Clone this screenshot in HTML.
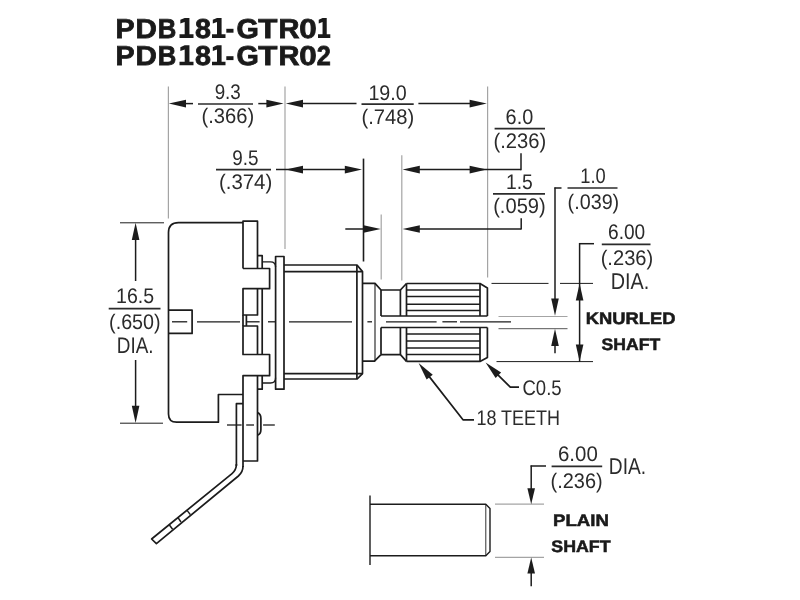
<!DOCTYPE html>
<html><head><meta charset="utf-8"><title>PDB181-GTR</title>
<style>
html,body{margin:0;padding:0;background:#fff;}
body{width:800px;height:600px;overflow:hidden;}
svg{display:block;font-family:"Liberation Sans",sans-serif;text-rendering:geometricPrecision;}
</style></head><body>
<svg width="800" height="600" viewBox="0 0 800 600">
<rect width="800" height="600" fill="#ffffff"/>
<g style="filter:blur(0.4px)">
<text transform="translate(115.51,37.90) scale(1.0428,1)" font-size="27.4" font-weight="bold" fill="#1a1a1a" stroke="#1a1a1a" stroke-width="0.8">P</text>
<text transform="translate(135.45,37.90) scale(1.0801,1)" font-size="27.4" font-weight="bold" fill="#1a1a1a" stroke="#1a1a1a" stroke-width="0.8">D</text>
<text transform="translate(157.70,37.90) scale(0.9378,1)" font-size="27.4" font-weight="bold" fill="#1a1a1a" stroke="#1a1a1a" stroke-width="0.8">B</text>
<path d="M184.68,17.90 L189.44,17.90 L189.44,34.30 L193.50,34.30 L193.50,37.90 L179.50,37.90 L179.50,34.30 L184.68,34.30 L184.68,22.10 L180.34,23.50 L180.34,19.80 Z" fill="#1a1a1a"/>
<text transform="translate(195.01,37.90) scale(1.0470,1)" font-size="27.4" font-weight="bold" fill="#1a1a1a" stroke="#1a1a1a" stroke-width="0.8">8</text>
<path d="M217.00,17.90 L221.59,17.90 L221.59,34.30 L225.50,34.30 L225.50,37.90 L212.00,37.90 L212.00,34.30 L217.00,34.30 L217.00,22.10 L212.81,23.50 L212.81,19.80 Z" fill="#1a1a1a"/>
<rect x="226.30" y="28.80" width="7.20" height="3.9" fill="#1a1a1a"/>
<text transform="translate(236.42,37.90) scale(1.0489,1)" font-size="27.4" font-weight="bold" fill="#1a1a1a" stroke="#1a1a1a" stroke-width="0.8">G</text>
<text transform="translate(258.16,37.90) scale(1.1444,1)" font-size="27.4" font-weight="bold" fill="#1a1a1a" stroke="#1a1a1a" stroke-width="0.8">T</text>
<text transform="translate(278.58,37.90) scale(1.0616,1)" font-size="27.4" font-weight="bold" fill="#1a1a1a" stroke="#1a1a1a" stroke-width="0.8">R</text>
<text transform="translate(299.27,37.90) scale(1.1477,1)" font-size="27.4" font-weight="bold" fill="#1a1a1a" stroke="#1a1a1a" stroke-width="0.8">0</text>
<path d="M322.55,17.90 L326.73,17.90 L326.73,34.30 L330.30,34.30 L330.30,37.90 L318.00,37.90 L318.00,34.30 L322.55,34.30 L322.55,22.10 L318.74,23.50 L318.74,19.80 Z" fill="#1a1a1a"/>
<text transform="translate(115.51,65.30) scale(1.0428,1)" font-size="27.4" font-weight="bold" fill="#1a1a1a" stroke="#1a1a1a" stroke-width="0.8">P</text>
<text transform="translate(135.45,65.30) scale(1.0801,1)" font-size="27.4" font-weight="bold" fill="#1a1a1a" stroke="#1a1a1a" stroke-width="0.8">D</text>
<text transform="translate(157.70,65.30) scale(0.9378,1)" font-size="27.4" font-weight="bold" fill="#1a1a1a" stroke="#1a1a1a" stroke-width="0.8">B</text>
<path d="M184.68,45.30 L189.44,45.30 L189.44,61.70 L193.50,61.70 L193.50,65.30 L179.50,65.30 L179.50,61.70 L184.68,61.70 L184.68,49.50 L180.34,50.90 L180.34,47.20 Z" fill="#1a1a1a"/>
<text transform="translate(195.01,65.30) scale(1.0470,1)" font-size="27.4" font-weight="bold" fill="#1a1a1a" stroke="#1a1a1a" stroke-width="0.8">8</text>
<path d="M217.00,45.30 L221.59,45.30 L221.59,61.70 L225.50,61.70 L225.50,65.30 L212.00,65.30 L212.00,61.70 L217.00,61.70 L217.00,49.50 L212.81,50.90 L212.81,47.20 Z" fill="#1a1a1a"/>
<rect x="226.30" y="56.20" width="7.20" height="3.9" fill="#1a1a1a"/>
<text transform="translate(236.42,65.30) scale(1.0489,1)" font-size="27.4" font-weight="bold" fill="#1a1a1a" stroke="#1a1a1a" stroke-width="0.8">G</text>
<text transform="translate(258.16,65.30) scale(1.1444,1)" font-size="27.4" font-weight="bold" fill="#1a1a1a" stroke="#1a1a1a" stroke-width="0.8">T</text>
<text transform="translate(278.58,65.30) scale(1.0616,1)" font-size="27.4" font-weight="bold" fill="#1a1a1a" stroke="#1a1a1a" stroke-width="0.8">R</text>
<text transform="translate(299.27,65.30) scale(1.1477,1)" font-size="27.4" font-weight="bold" fill="#1a1a1a" stroke="#1a1a1a" stroke-width="0.8">0</text>
<text transform="translate(316.74,65.30) scale(0.9219,1)" font-size="27.4" font-weight="bold" fill="#1a1a1a" stroke="#1a1a1a" stroke-width="0.8">2</text>
<line x1="168.4" y1="86.5" x2="168.4" y2="218.5" stroke="#a4a4a4" stroke-width="1.2"/>
<line x1="285.0" y1="86.5" x2="285.0" y2="249" stroke="#a4a4a4" stroke-width="1.2"/>
<line x1="487.6" y1="86.5" x2="487.6" y2="277.5" stroke="#a4a4a4" stroke-width="1.2"/>
<line x1="401.8" y1="155.3" x2="401.8" y2="280.5" stroke="#a4a4a4" stroke-width="1.2"/>
<line x1="381.2" y1="214.4" x2="381.2" y2="279.5" stroke="#a4a4a4" stroke-width="1.2"/>
<line x1="120" y1="222.8" x2="164" y2="222.8" stroke="#1c1c1c" stroke-width="1.0"/>
<line x1="120" y1="423.2" x2="163" y2="423.2" stroke="#1c1c1c" stroke-width="1.0"/>
<line x1="491.5" y1="283.4" x2="548.5" y2="283.4" stroke="#1c1c1c" stroke-width="1.0"/>
<line x1="560" y1="283.4" x2="593" y2="283.4" stroke="#1c1c1c" stroke-width="1.0"/>
<line x1="498.5" y1="316.5" x2="567.5" y2="316.5" stroke="#a4a4a4" stroke-width="1.2"/>
<line x1="498.5" y1="328.7" x2="567.5" y2="328.7" stroke="#555" stroke-width="1.0"/>
<line x1="496.5" y1="361.6" x2="593" y2="361.6" stroke="#1c1c1c" stroke-width="1.0"/>
<line x1="495" y1="504.2" x2="544" y2="504.2" stroke="#a4a4a4" stroke-width="1.2"/>
<line x1="495" y1="557.4" x2="544" y2="557.4" stroke="#a4a4a4" stroke-width="1.2"/>
<polygon points="168.80,103.60 186.00,99.80 186.00,107.40" fill="#1c1c1c"/>
<line x1="185" y1="103.6" x2="193" y2="103.6" stroke="#1c1c1c" stroke-width="1.5"/>
<line x1="198" y1="104.0" x2="253" y2="104.0" stroke="#2b2b2b" stroke-width="1.7"/>
<text transform="translate(214.63,99.30) scale(0.8883,1)" font-size="21.2" fill="#2b2b2b">9.3</text>
<text transform="translate(201.55,122.80) scale(0.9517,1)" font-size="21.2" fill="#2b2b2b">(.366)</text>
<line x1="258.3" y1="103.6" x2="267" y2="103.6" stroke="#1c1c1c" stroke-width="1.5"/>
<polygon points="283.60,103.60 266.40,107.40 266.40,99.80" fill="#1c1c1c"/>
<polygon points="285.80,103.60 303.00,99.80 303.00,107.40" fill="#1c1c1c"/>
<line x1="302" y1="103.6" x2="356.5" y2="103.6" stroke="#1c1c1c" stroke-width="1.5"/>
<line x1="361.5" y1="104.2" x2="413.7" y2="104.2" stroke="#2b2b2b" stroke-width="1.7"/>
<text transform="translate(368.40,99.50) scale(0.9295,1)" font-size="21.2" fill="#2b2b2b">19.0</text>
<text transform="translate(361.55,124.20) scale(0.9517,1)" font-size="21.2" fill="#2b2b2b">(.748)</text>
<line x1="418.4" y1="103.6" x2="470.5" y2="103.6" stroke="#1c1c1c" stroke-width="1.5"/>
<polygon points="486.80,103.60 469.60,107.40 469.60,99.80" fill="#1c1c1c"/>
<line x1="216" y1="169.6" x2="271" y2="169.6" stroke="#2b2b2b" stroke-width="1.7"/>
<text transform="translate(232.33,164.90) scale(0.8905,1)" font-size="21.2" fill="#2b2b2b">9.5</text>
<text transform="translate(218.93,189.00) scale(0.9631,1)" font-size="21.2" fill="#2b2b2b">(.374)</text>
<line x1="276" y1="169.6" x2="346" y2="169.6" stroke="#1c1c1c" stroke-width="1.5"/>
<polygon points="285.80,169.60 303.00,165.80 303.00,173.40" fill="#1c1c1c"/>
<polygon points="362.00,169.60 344.80,173.40 344.80,165.80" fill="#1c1c1c"/>
<line x1="363.5" y1="158.6" x2="363.5" y2="261.5" stroke="#1c1c1c" stroke-width="1.6"/>
<polygon points="402.60,169.60 419.80,165.80 419.80,173.40" fill="#1c1c1c"/>
<polygon points="486.80,169.60 469.60,173.40 469.60,165.80" fill="#1c1c1c"/>
<line x1="419" y1="169.6" x2="521" y2="169.6" stroke="#1c1c1c" stroke-width="1.5"/>
<line x1="521" y1="153.3" x2="521" y2="170.2" stroke="#1c1c1c" stroke-width="1.5"/>
<line x1="494.6" y1="128.6" x2="545" y2="128.6" stroke="#2b2b2b" stroke-width="1.7"/>
<text transform="translate(505.61,123.90) scale(0.9383,1)" font-size="21.2" fill="#2b2b2b">6.0</text>
<text transform="translate(493.55,148.00) scale(0.9517,1)" font-size="21.2" fill="#2b2b2b">(.236)</text>
<line x1="345.3" y1="229.0" x2="364" y2="229.0" stroke="#1c1c1c" stroke-width="1.5"/>
<polygon points="380.80,229.00 363.60,232.80 363.60,225.20" fill="#1c1c1c"/>
<polygon points="402.60,229.00 419.80,225.20 419.80,232.80" fill="#1c1c1c"/>
<line x1="419" y1="229.0" x2="521.2" y2="229.0" stroke="#1c1c1c" stroke-width="1.5"/>
<line x1="521.2" y1="218.3" x2="521.2" y2="229.6" stroke="#1c1c1c" stroke-width="1.5"/>
<line x1="493" y1="193.8" x2="545" y2="193.8" stroke="#2b2b2b" stroke-width="1.7"/>
<text transform="translate(505.93,189.10) scale(0.9115,1)" font-size="21.2" fill="#2b2b2b">1.5</text>
<text transform="translate(493.15,213.20) scale(0.9498,1)" font-size="21.2" fill="#2b2b2b">(.059)</text>
<line x1="567.5" y1="188.0" x2="617.5" y2="188.0" stroke="#2b2b2b" stroke-width="1.7"/>
<text transform="translate(580.21,183.30) scale(0.8650,1)" font-size="21.2" fill="#2b2b2b">1.0</text>
<text transform="translate(567.57,208.60) scale(0.9328,1)" font-size="21.2" fill="#2b2b2b">(.039)</text>
<line x1="554.4" y1="188" x2="561.5" y2="188" stroke="#1c1c1c" stroke-width="1.5"/>
<line x1="555" y1="187.4" x2="555" y2="299" stroke="#1c1c1c" stroke-width="1.5"/>
<polygon points="555.00,315.80 551.20,298.60 558.80,298.60" fill="#1c1c1c"/>
<polygon points="555.00,328.80 558.80,346.00 551.20,346.00" fill="#1c1c1c"/>
<line x1="555" y1="345" x2="555" y2="353.2" stroke="#1c1c1c" stroke-width="1.5"/>
<line x1="601.8" y1="244.4" x2="650.5" y2="244.4" stroke="#2b2b2b" stroke-width="1.7"/>
<text transform="translate(608.04,238.70) scale(0.9013,1)" font-size="21.2" fill="#2b2b2b">6.00</text>
<text transform="translate(600.65,264.80) scale(0.9498,1)" font-size="21.2" fill="#2b2b2b">(.236)</text>
<text transform="translate(610.68,289.30) scale(0.8688,1)" font-size="22.8" fill="#2b2b2b">DIA.</text>
<line x1="579" y1="243.7" x2="594" y2="243.7" stroke="#1c1c1c" stroke-width="1.5"/>
<line x1="579.6" y1="243.0" x2="579.6" y2="362" stroke="#1c1c1c" stroke-width="1.5"/>
<polygon points="579.60,283.40 583.40,300.60 575.80,300.60" fill="#1c1c1c"/>
<polygon points="579.60,361.60 575.80,344.40 583.40,344.40" fill="#1c1c1c"/>
<line x1="108.7" y1="308.7" x2="160.5" y2="308.7" stroke="#2b2b2b" stroke-width="1.7"/>
<text transform="translate(116.01,302.80) scale(0.9233,1)" font-size="21.2" fill="#2b2b2b">16.5</text>
<text transform="translate(109.08,329.20) scale(0.9309,1)" font-size="21.2" fill="#2b2b2b">(.650)</text>
<text transform="translate(116.75,352.90) scale(0.8365,1)" font-size="22.6" fill="#2b2b2b">DIA.</text>
<line x1="135.6" y1="240" x2="135.6" y2="281" stroke="#1c1c1c" stroke-width="1.5"/>
<polygon points="135.60,222.80 139.40,240.00 131.80,240.00" fill="#1c1c1c"/>
<line x1="135.6" y1="360" x2="135.6" y2="407" stroke="#1c1c1c" stroke-width="1.5"/>
<polygon points="135.60,423.00 131.80,405.80 139.40,405.80" fill="#1c1c1c"/>
<line x1="551.6" y1="466.4" x2="602.2" y2="466.4" stroke="#2b2b2b" stroke-width="1.7"/>
<text transform="translate(557.98,461.30) scale(0.9647,1)" font-size="21.2" fill="#2b2b2b">6.00</text>
<text transform="translate(550.56,487.80) scale(0.9404,1)" font-size="21.2" fill="#2b2b2b">(.236)</text>
<text transform="translate(608.83,474.10) scale(0.8391,1)" font-size="22.8" fill="#2b2b2b">DIA.</text>
<line x1="530.6" y1="466" x2="546" y2="466" stroke="#1c1c1c" stroke-width="1.5"/>
<line x1="531.2" y1="465.4" x2="531.2" y2="489" stroke="#1c1c1c" stroke-width="1.5"/>
<polygon points="531.20,504.20 527.40,488.20 535.00,488.20" fill="#1c1c1c"/>
<polygon points="531.20,557.60 535.00,573.60 527.40,573.60" fill="#1c1c1c"/>
<line x1="531.2" y1="573" x2="531.2" y2="586.3" stroke="#1c1c1c" stroke-width="1.5"/>
<text transform="translate(585.79,324.00) scale(1.1061,1)" font-size="16.6" font-weight="bold" stroke="#1a1a1a" stroke-width="0.53" fill="#1a1a1a">KNURLED</text>
<text transform="translate(601.51,349.70) scale(1.0604,1)" font-size="16.6" font-weight="bold" stroke="#1a1a1a" stroke-width="0.53" fill="#1a1a1a">SHAFT</text>
<text transform="translate(552.97,526.00) scale(1.1241,1)" font-size="16.6" font-weight="bold" stroke="#1a1a1a" stroke-width="0.53" fill="#1a1a1a">PLAIN</text>
<text transform="translate(551.30,552.00) scale(1.0714,1)" font-size="16.6" font-weight="bold" stroke="#1a1a1a" stroke-width="0.53" fill="#1a1a1a">SHAFT</text>
<text transform="translate(522.47,394.60) scale(0.8752,1)" font-size="21.2" fill="#2b2b2b">C0.5</text>
<text transform="translate(476.43,425.30) scale(0.8483,1)" font-size="21.2" fill="#2b2b2b">18 TEETH</text>
<polygon points="485.60,362.60 501.11,372.54 495.60,378.07" fill="#1c1c1c"/>
<path d="M497.65,374.60 L510.3,387.2 L519,387.2" stroke="#1c1c1c" stroke-width="1.7" fill="none" stroke-linejoin="round" stroke-linecap="butt"/>
<polygon points="418.60,363.00 432.76,374.78 426.61,379.58" fill="#1c1c1c"/>
<path d="M429.07,376.39 L463,419.8 L474,419.8" stroke="#1c1c1c" stroke-width="1.7" fill="none" stroke-linejoin="round" stroke-linecap="butt"/>
<path d="M243,222.6 L178.5,222.6 Q168.5,222.6 168.5,232.6 L168.5,414 Q168.5,422.2 176.7,422.2 L218.4,422.2 L218.4,394.5 L243,394.5" stroke="#1c1c1c" stroke-width="1.7" fill="none" stroke-linejoin="round" stroke-linecap="butt"/>
<path d="M168.5,310.1 L192.1,310.1 L192.1,333.4 L168.5,333.4" stroke="#1c1c1c" stroke-width="1.7" fill="none" stroke-linejoin="round" stroke-linecap="butt"/>
<path d="M243,268.5 L243,221.2 L257.5,221.2 L257.5,268.5" stroke="#1c1c1c" stroke-width="1.7" fill="none" stroke-linejoin="round" stroke-linecap="butt"/>
<path d="M243,268.5 L269.6,268.5 L269.6,288.7 L243,288.7 L243,315 L257.5,315 L257.5,288.7" stroke="#1c1c1c" stroke-width="1.7" fill="none" stroke-linejoin="round" stroke-linecap="butt"/>
<path d="M243,315 L243,326 M246.4,315 L246.4,326" stroke="#1c1c1c" stroke-width="1.7" fill="none" stroke-linejoin="round" stroke-linecap="butt"/>
<path d="M257.5,354.5 L257.5,326 L243,326 L243,354.5 L269.6,354.5 L269.6,375.7 L243,375.7 L243,467" stroke="#1c1c1c" stroke-width="1.7" fill="none" stroke-linejoin="round" stroke-linecap="butt"/>
<path d="M257.5,375.7 L257.5,461 L243,461" stroke="#1c1c1c" stroke-width="1.7" fill="none" stroke-linejoin="round" stroke-linecap="butt"/>
<path d="M257.5,255.7 L262.2,255.7 L262.2,268.5 M262.2,288.7 L262.2,354.5 M262.2,375.7 L262.2,389.2 L257.5,389.2" stroke="#1c1c1c" stroke-width="1.7" fill="none" stroke-linejoin="round" stroke-linecap="butt"/>
<path d="M262.2,261.8 L270.5,261.8 Q275.6,261.8 275.6,267" stroke="#1c1c1c" stroke-width="1.3" fill="none" stroke-linejoin="round" stroke-linecap="butt"/>
<path d="M262.2,383 L270.5,383 Q275.6,383 275.6,377.8" stroke="#1c1c1c" stroke-width="1.3" fill="none" stroke-linejoin="round" stroke-linecap="butt"/>
<path d="M275.6,256.5 L284,256.5 L284,389.2 L275.6,389.2 Z" stroke="#1c1c1c" stroke-width="1.7" fill="none" stroke-linejoin="round" stroke-linecap="butt"/>
<path d="M284,265 L357,265 L362.5,271.6 L362.5,373.6 L357.2,379 L284,379" stroke="#1c1c1c" stroke-width="1.7" fill="none" stroke-linejoin="round" stroke-linecap="butt"/>
<path d="M284,271.6 L362.5,271.6 M284,373.6 L362.5,373.6 M356.9,265 L356.9,379" stroke="#1c1c1c" stroke-width="1.7" fill="none" stroke-linejoin="round" stroke-linecap="butt"/>
<path d="M362.5,283.4 L375,283.4 L381,290 M362.5,361.2 L374.5,361.2 L381,354.6" stroke="#1c1c1c" stroke-width="1.7" fill="none" stroke-linejoin="round" stroke-linecap="butt"/>
<path d="M375,283.4 L375,361.2" stroke="#1c1c1c" stroke-width="1.1" fill="none" stroke-linejoin="round" stroke-linecap="butt"/>
<path d="M381,290 L381,316 M381,327.5 L381,354.6" stroke="#1c1c1c" stroke-width="1.7" fill="none" stroke-linejoin="round" stroke-linecap="butt"/>
<path d="M381,290 L400.4,290 L406.5,283.5 M381,354.6 L400.4,354.6 L406.5,361.4" stroke="#1c1c1c" stroke-width="1.7" fill="none" stroke-linejoin="round" stroke-linecap="butt"/>
<path d="M400.4,290 L400.4,316 M400.4,327.5 L400.4,354.6" stroke="#1c1c1c" stroke-width="1.7" fill="none" stroke-linejoin="round" stroke-linecap="butt"/>
<path d="M406.5,283.5 L406.5,316 M406.5,327.5 L406.5,361.4" stroke="#1c1c1c" stroke-width="1.7" fill="none" stroke-linejoin="round" stroke-linecap="butt"/>
<path d="M406.5,283.5 L480,283.5 L487.4,288 L487.4,316 M406.5,361.4 L480,361.4 L487.4,357.4 L487.4,327.5" stroke="#1c1c1c" stroke-width="1.7" fill="none" stroke-linejoin="round" stroke-linecap="butt"/>
<path d="M480,283.5 L480,316 M480,327.5 L480,361.4" stroke="#1c1c1c" stroke-width="1.7" fill="none" stroke-linejoin="round" stroke-linecap="butt"/>
<path d="M381,316 L487.4,316 M381,327.5 L487.4,327.5" stroke="#1c1c1c" stroke-width="1.7" fill="none" stroke-linejoin="round" stroke-linecap="butt"/>
<line x1="406.5" y1="290" x2="480" y2="290" stroke="#1c1c1c" stroke-width="1.5"/>
<line x1="406.5" y1="296.6" x2="480" y2="296.6" stroke="#1c1c1c" stroke-width="1.5"/>
<line x1="406.5" y1="304.3" x2="480" y2="304.3" stroke="#1c1c1c" stroke-width="1.5"/>
<line x1="406.5" y1="310.6" x2="480" y2="310.6" stroke="#1c1c1c" stroke-width="1.5"/>
<line x1="406.5" y1="334" x2="480" y2="334" stroke="#1c1c1c" stroke-width="1.5"/>
<line x1="406.5" y1="341" x2="480" y2="341" stroke="#1c1c1c" stroke-width="1.5"/>
<line x1="406.5" y1="348" x2="480" y2="348" stroke="#1c1c1c" stroke-width="1.5"/>
<line x1="406.5" y1="354.6" x2="480" y2="354.6" stroke="#1c1c1c" stroke-width="1.5"/>
<line x1="172" y1="321.8" x2="187.2" y2="321.8" stroke="#1c1c1c" stroke-width="1.3"/>
<line x1="197" y1="321.8" x2="240" y2="321.8" stroke="#1c1c1c" stroke-width="1.3"/>
<line x1="247" y1="321.8" x2="259.6" y2="321.8" stroke="#1c1c1c" stroke-width="1.3"/>
<line x1="268" y1="321.8" x2="275" y2="321.8" stroke="#1c1c1c" stroke-width="1.3"/>
<line x1="289" y1="321.8" x2="352" y2="321.8" stroke="#1c1c1c" stroke-width="1.3"/>
<line x1="367.4" y1="321.8" x2="372" y2="321.8" stroke="#1c1c1c" stroke-width="1.3"/>
<line x1="386" y1="321.8" x2="436.6" y2="321.8" stroke="#1c1c1c" stroke-width="1.3"/>
<line x1="442.4" y1="321.8" x2="457" y2="321.8" stroke="#1c1c1c" stroke-width="1.3"/>
<line x1="460" y1="321.8" x2="511" y2="321.8" stroke="#1c1c1c" stroke-width="1.3"/>
<path d="M236.4,466 L236.4,403.7 L243,403.7" stroke="#1c1c1c" stroke-width="1.7" fill="none" stroke-linejoin="round" stroke-linecap="butt"/>
<path d="M243,466 Q243,472 238.4,476 L156.4,543.6 L151.6,539 L232,473.6 Q236.4,470 236.4,464" stroke="#1c1c1c" stroke-width="1.7" fill="none" stroke-linejoin="round" stroke-linecap="butt"/>
<line x1="187" y1="510.4" x2="190.4" y2="514.6" stroke="#1c1c1c" stroke-width="1.5"/>
<line x1="178" y1="517.6" x2="181" y2="522" stroke="#1c1c1c" stroke-width="1.5"/>
<line x1="169.4" y1="525" x2="172.6" y2="529.2" stroke="#1c1c1c" stroke-width="1.5"/>
<path d="M257.5,412.6 Q260.9,414 260.9,418.5 L260.9,429.5 Q260.9,434 257.5,435.3" stroke="#1c1c1c" stroke-width="1.7" fill="none" stroke-linejoin="round" stroke-linecap="butt"/>
<line x1="227" y1="425" x2="241.6" y2="425" stroke="#1c1c1c" stroke-width="1.3"/>
<line x1="246.2" y1="425" x2="254" y2="425" stroke="#1c1c1c" stroke-width="1.3"/>
<line x1="263.1" y1="425" x2="274.8" y2="425" stroke="#1c1c1c" stroke-width="1.3"/>
<path d="M370,495.5 L370,565" stroke="#1c1c1c" stroke-width="1.4" fill="none" stroke-linejoin="round" stroke-linecap="butt"/>
<path d="M370,504.3 L485.8,504.3 L490,508.5 L490,551.6 L485.8,555.8 L370,555.8" stroke="#1c1c1c" stroke-width="1.4" fill="none" stroke-linejoin="round" stroke-linecap="butt"/>
<path d="M485.8,504.3 L485.8,555.8" stroke="#1c1c1c" stroke-width="0.9" fill="none" stroke-linejoin="round" stroke-linecap="butt"/>
</g>
</svg>
</body></html>
